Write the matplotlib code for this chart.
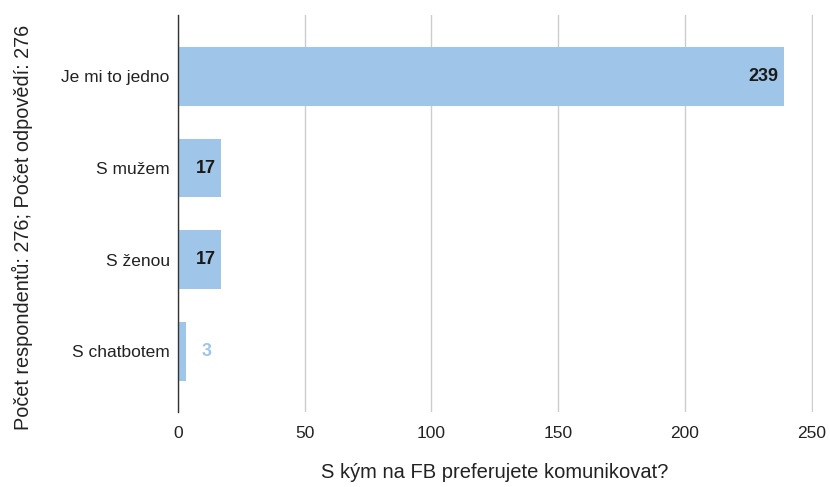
import matplotlib.pyplot as plt

categories = ["Je mi to jedno", "S mužem", "S ženou", "S chatbotem"]
values = [239, 17, 17, 3]
xticks = [0, 50, 100, 150, 200, 250]

bar_color = "#9fc5e8"

plt.rcParams['font.family'] = ['Liberation Sans', 'DejaVu Sans']

fig = plt.figure(figsize=(8.3, 4.87), dpi=100)
ax = fig.add_axes([178 / 830, 75 / 487, 635 / 830, 397 / 487])

ypos = list(range(len(categories)))
ax.barh(ypos, values, height=0.64, color=bar_color, zorder=3)

for y, v in zip(ypos, values):
    if v >= 10:
        ax.text(v - 2, y, str(v), ha="right", va="center", fontsize=13,
                fontweight="bold", color="#1a1a1a", zorder=4)
    else:
        ax.text(v + 6.5, y, str(v), ha="left", va="center", fontsize=13,
                fontweight="bold", color=bar_color, zorder=4)

ax.set_yticks(ypos)
ax.set_yticklabels(categories, fontsize=12.5, color="#222222")
ax.set_ylim(3.66, -0.67)
ax.set_xlim(0, 250.5)
ax.set_xticks(xticks)
ax.set_xticklabels([str(t) for t in xticks], fontsize=12.5, color="#222222")

ax.grid(axis="x", color="#cccccc", linewidth=1, zorder=0)
ax.grid(axis="y", visible=False)
for s in ["top", "right", "bottom"]:
    ax.spines[s].set_visible(False)
ax.spines["left"].set_color("#333333")
ax.spines["left"].set_linewidth(1)
ax.spines["left"].set_zorder(5)
ax.tick_params(axis="x", length=0, pad=10)
ax.tick_params(axis="y", length=0, pad=6)

fig.text(495 / 830, 1 - 472 / 487, "S kým na FB preferujete komunikovat?",
         ha="center", va="center", fontsize=14.5, color="#222222")
fig.text(0.027, 1 - 227 / 487, "Počet respondentů: 276; Počet odpovědí: 276", rotation=90,
         ha="center", va="center", fontsize=14.3, color="#222222")

fig.savefig("out.png", dpi=100)
